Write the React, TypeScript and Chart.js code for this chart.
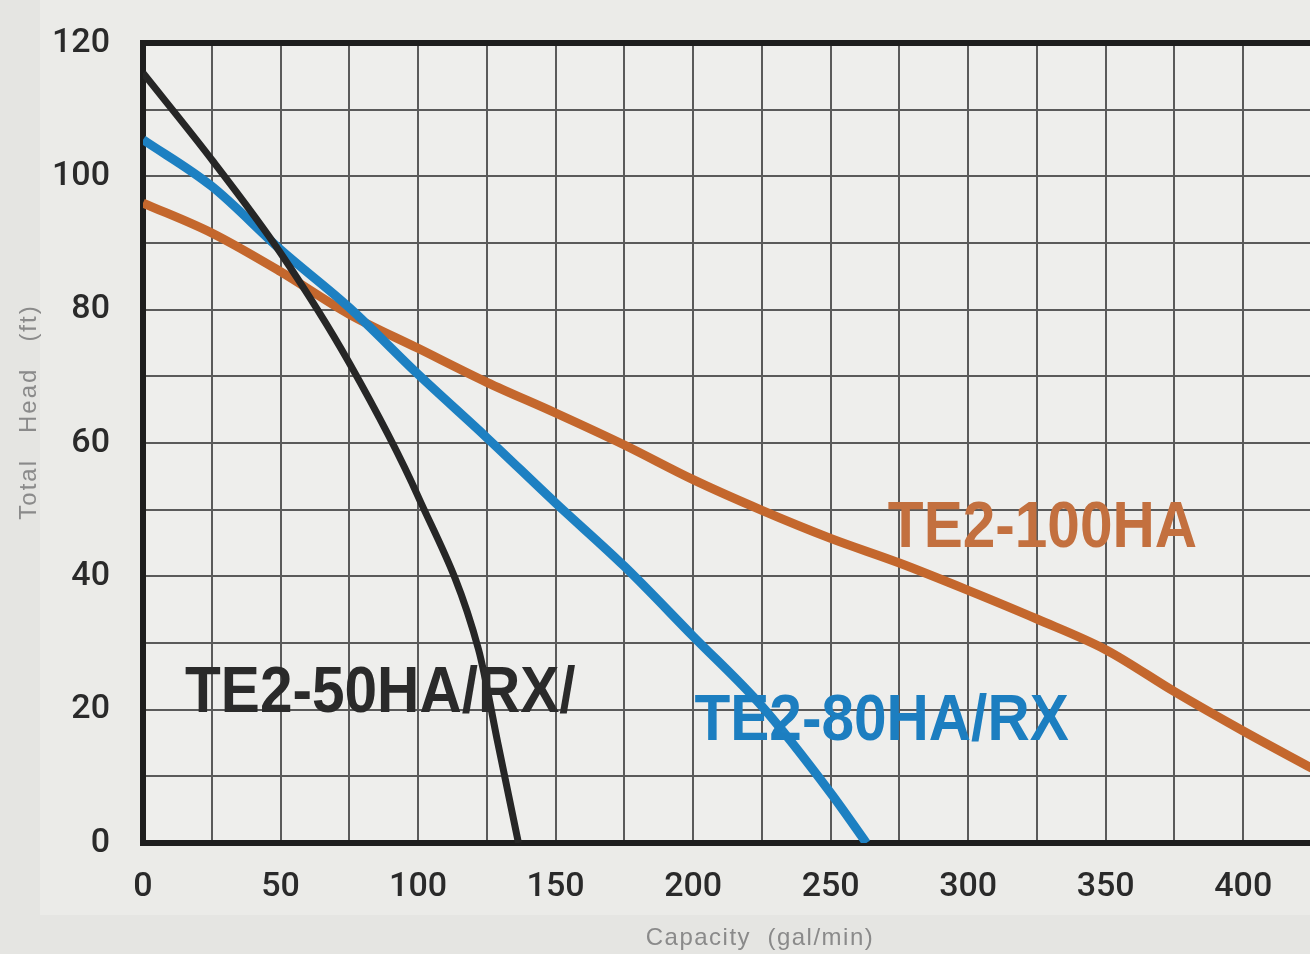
import React, { useEffect, useRef } from 'react';
import { Chart, registerables } from 'chart.js';

Chart.register(...registerables);

// Axis tick labels
const xTickLabels = [0, 50, 100, 150, 200, 250, 300, 350, 400];
const yTickLabels = [0, 20, 40, 60, 80, 100, 120];

// TE2-50HA/RX/ (black)
const te50Capacity = [0, 25, 50, 75, 100, 122, 129, 136.5];
const te50Head = [115.5, 102.5, 88.5, 72, 52, 29, 15, 0];

// TE2-80HA/RX (blue)
const te80Capacity = [0, 25, 50, 75, 100, 125, 150, 175, 200, 225, 250, 263];
const te80Head = [105.5, 98.5, 89, 80.3, 70.3, 60.8, 51, 41.5, 31, 20.5, 7.5, 0];

// TE2-100HA (orange)
const te100Capacity = [0, 25, 50, 75, 100, 125, 150, 175, 200, 225, 250, 275, 300, 325, 350, 375, 400, 425];
const te100Head = [96, 91.5, 85.7, 79.3, 74.2, 69.1, 64.5, 59.7, 54.5, 49.9, 45.7, 42, 37.9, 33.6, 29, 22.7, 16.8, 11.2];

const seriesNames = ['TE2-50HA/RX/', 'TE2-80HA/RX', 'TE2-100HA'];

const toPoints = (xs: number[], ys: number[]) => xs.map((x, i) => ({ x, y: ys[i] }));

const backgroundPlugin = {
  id: 'paperBackground',
  beforeDraw(chart: any) {
    const { ctx, chartArea } = chart;
    ctx.save();
    ctx.fillStyle = '#e5e5e2';
    ctx.fillRect(0, 0, chart.width, chart.height);
    ctx.fillStyle = '#ebebe8';
    ctx.fillRect(40, 0, chart.width - 40, 915);
    ctx.fillStyle = '#eeeeec';
    ctx.fillRect(chartArea.left, chartArea.top, chartArea.right - chartArea.left, chartArea.bottom - chartArea.top);
    ctx.restore();
  },
};

const curveLabelPlugin = {
  id: 'curveLabels',
  afterDatasetsDraw(chart: any) {
    const { ctx, scales } = chart;
    const anchors = [
      { x: 15.3, y: 19.6, color: '#2a2a2a' },
      { x: 200.5, y: 15.4, color: '#1c7ec0' },
      { x: 270.8, y: 44.4, color: '#c3703f' },
    ];
    ctx.save();
    ctx.font = 'bold 64px "Liberation Sans", Arial, sans-serif';
    ctx.textAlign = 'left';
    ctx.textBaseline = 'alphabetic';
    anchors.forEach((a, i) => {
      const px = scales.x.getPixelForValue(a.x);
      const py = scales.y.getPixelForValue(a.y);
      ctx.save();
      ctx.translate(px, py);
      ctx.scale(0.915, 1);
      ctx.fillStyle = a.color;
      ctx.fillText(seriesNames[i], 0, 0);
      ctx.restore();
    });
    ctx.restore();
  },
};

const axisTitlePlugin = {
  id: 'axisTitles',
  afterDraw(chart: any) {
    const { ctx } = chart;
    ctx.save();
    ctx.fillStyle = '#8a8a8a';
    ctx.textAlign = 'center';
    ctx.textBaseline = 'middle';
    ctx.font = '24px "Liberation Sans", Arial, sans-serif';
    try { (ctx as any).letterSpacing = '1.5px'; } catch (e) {}
    ctx.fillText('Capacity  (gal/min)', 760, 938);
    ctx.translate(29, 412);
    ctx.rotate(-Math.PI / 2);
    ctx.font = '24px "Liberation Sans", Arial, sans-serif';
    try { (ctx as any).letterSpacing = '2px'; } catch (e) {}
    ctx.fillText('Total   Head   (ft)', 0, 0);
    ctx.restore();
  },
};

export default function App() {
  const canvasRef = useRef<HTMLCanvasElement | null>(null);

  useEffect(() => {
    document.body.style.margin = '0';
    const canvas = canvasRef.current;
    if (!canvas) return;
    const tickFont = { family: 'Roboto, "Liberation Sans", Arial, sans-serif', size: 34, weight: '500' };
    const chart = new Chart(canvas, {
      type: 'line',
      data: {
        datasets: [
          {
            label: seriesNames[0],
            data: toPoints(te50Capacity, te50Head),
            borderColor: '#262626',
            borderWidth: 7,
            pointRadius: 0,
            cubicInterpolationMode: 'monotone',
            fill: false,
          },
          {
            label: seriesNames[1],
            data: toPoints(te80Capacity, te80Head),
            borderColor: '#1d80c2',
            borderWidth: 9,
            pointRadius: 0,
            cubicInterpolationMode: 'monotone',
            fill: false,
          },
          {
            label: seriesNames[2],
            data: toPoints(te100Capacity, te100Head),
            borderColor: '#c4672d',
            borderWidth: 9,
            pointRadius: 0,
            cubicInterpolationMode: 'monotone',
            fill: false,
          },
        ],
      },
      options: {
        animation: false,
        responsive: false,
        devicePixelRatio: 1,
        layout: { autoPadding: false, padding: { top: 43, left: 0, right: 0, bottom: 0 } },
        plugins: {
          legend: { display: false },
          tooltip: { enabled: false },
          title: { display: false },
        },
        scales: {
          x: {
            type: 'linear',
            min: 0,
            max: 425,
            afterFit: (scale: any) => {
              scale.height = 111;
              scale.paddingRight = 0;
              scale.paddingLeft = 0;
            },
            ticks: {
              stepSize: 25,
              autoSkip: false,
              maxRotation: 0,
              padding: 24,
              font: tickFont,
              color: '#2a2a2a',
              callback: (v: any) => (xTickLabels.includes(Number(v)) ? String(v) : ''),
            },
            grid: {
              color: '#5a5a5a',
              lineWidth: 2,
              drawTicks: false,
            },
            border: { display: true, color: '#1e1e1e', width: 6 },
          },
          y: {
            type: 'linear',
            min: 0,
            max: 120,
            afterFit: (scale: any) => {
              scale.width = 143;
              scale.paddingTop = 0;
              scale.paddingBottom = 0;
            },
            ticks: {
              stepSize: 10,
              autoSkip: false,
              padding: 33,
              font: tickFont,
              color: '#2a2a2a',
              callback: (v: any) => (yTickLabels.includes(Number(v)) ? String(v) : ''),
            },
            grid: {
              color: (c: any) => (c.tick && c.tick.value === 120 ? '#1e1e1e' : '#5a5a5a'),
              lineWidth: (c: any) => (c.tick && c.tick.value === 120 ? 6 : 2),
              drawTicks: false,
            },
            border: { display: true, color: '#1e1e1e', width: 6 },
          },
        },
      },
      plugins: [backgroundPlugin, curveLabelPlugin, axisTitlePlugin],
    } as any);
    return () => chart.destroy();
  }, []);

  return (
    <div style={{ position: 'fixed', left: 0, top: 0, width: 1310, height: 954, overflow: 'hidden' }}>
      <canvas ref={canvasRef} width={1312} height={954} style={{ display: 'block' }} />
    </div>
  );
}
